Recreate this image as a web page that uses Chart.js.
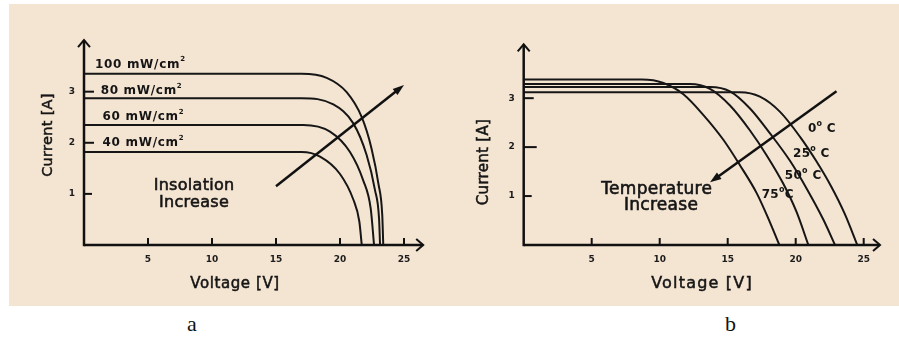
<!DOCTYPE html>
<html>
<head>
<meta charset="utf-8">
<script src="https://cdn.jsdelivr.net/npm/chart.js@4.4.1/dist/chart.umd.min.js"></script>
<style>
  body { margin: 0; background: #fff; width: 899px; height: 342px; position: relative; overflow: hidden; }
  #bg { position: absolute; left: 9px; top: 4px; width: 890px; height: 302px; background: #f4e4d2; }
  .wrap { position: absolute; top: 0; height: 310px; }
  #wrapA { left: 0; width: 450px; }
  #wrapB { left: 450px; width: 449px; }
  .cap { position: absolute; top: 313px; font: 22px "Liberation Serif", serif; color: #111; line-height: 22px; }
</style>
</head>
<body>
<div id="bg"></div>
<div class="wrap" id="wrapA"><canvas id="chartA"></canvas></div>
<div class="wrap" id="wrapB"><canvas id="chartB"></canvas></div>
<div class="cap" style="left:187px">a</div>
<div class="cap" style="left:725px">b</div>
<script>
// tick labels
const voltTicks = [5, 10, 15, 20, 25];
const ampTicks = [1, 2, 3];

// (a) I-V curves at different insolation
const insolLabels = ['100 mW/cm', '80 mW/cm', '60 mW/cm', '40 mW/cm'];
const v100 = [0, 17.0, 18.96, 20.52, 21.7, 22.47, 23.0, 23.3, 23.38];
const i100 = [3.35, 3.35, 3.27, 2.99, 2.5, 1.88, 1.2, 0.59, 0];
const v80 = [0, 17.0, 19.48, 21.04, 22.08, 22.73, 23.05, 23.13];
const i80 = [2.87, 2.87, 2.75, 2.38, 1.76, 1.08, 0.52, 0];
const v60 = [0, 17.13, 19.22, 20.78, 21.82, 22.4, 22.66];
const i60 = [2.35, 2.35, 2.22, 1.82, 1.26, 0.71, 0];
const v40 = [0, 17.0, 18.44, 20.0, 21.04, 21.51, 21.7];
const i40 = [1.82, 1.82, 1.73, 1.39, 0.89, 0.46, 0];

// (b) I-V curves at different temperature
const tempLabels = ['0', '25', '50', '75'];
const v0 = [0, 15.9, 17.37, 18.85, 20.32, 21.5, 22.6, 23.6, 24.53];
const i0 = [3.12, 3.12, 3.03, 2.72, 2.21, 1.72, 1.2, 0.64, 0];
const v25 = [0, 13.7, 15.17, 16.64, 18.11, 19.58, 20.81, 22.03, 22.89];
const i25 = [3.23, 3.23, 3.14, 2.79, 2.28, 1.72, 1.15, 0.52, 0];
const v50 = [0, 12.23, 13.7, 15.17, 16.64, 17.87, 19.09, 20.07, 20.93];
const i50 = [3.29, 3.29, 3.19, 2.85, 2.34, 1.83, 1.25, 0.67, 0];
const v75 = [0, 8.68, 10.27, 11.74, 13.2, 14.68, 15.9, 17.13, 17.99, 18.8];
const i75 = [3.38, 3.38, 3.31, 3.08, 2.66, 2.15, 1.63, 1.06, 0.54, 0];

const toPts = (vs, is) => vs.map((v, k) => ({ x: v, y: is[k] }));
const curve = (vs, is) => ({
  data: toPts(vs, is),
  borderColor: '#161616',
  borderWidth: 2,
  pointRadius: 0,
  cubicInterpolationMode: 'monotone',
  fill: false
});

function line(ctx, x1, y1, x2, y2) {
  ctx.beginPath(); ctx.moveTo(x1, y1); ctx.lineTo(x2, y2); ctx.stroke();
}

// fill + thin stroke, the scanned figure has heavy text
function heavyText(ctx, txt, x, y, w) {
  ctx.fillText(txt, x, y);
  if (w) { ctx.lineWidth = w; ctx.strokeText(txt, x, y); }
}

// draws axes with arrows, tick marks, the trend arrow and all annotation text
const extras = {
  id: 'extras',
  afterDatasetsDraw(chart, args, o) {
    const { ctx, scales: { x, y } } = chart;
    const px = v => x.getPixelForValue(v);
    const py = a => y.getPixelForValue(a);
    const x0 = px(0), y0 = py(0);
    ctx.save();
    ctx.strokeStyle = '#111';
    ctx.fillStyle = '#111';

    // axes
    ctx.lineWidth = 2.5;
    const xt = px(o.xTip), yt = py(o.yTip);
    line(ctx, x0, y0, xt, y0);
    line(ctx, x0, y0 + 1.2, x0, yt);
    ctx.lineWidth = 2;
    ctx.beginPath();
    ctx.moveTo(xt - 7, y0 - 6); ctx.lineTo(xt, y0); ctx.lineTo(xt - 7, y0 + 6);
    ctx.moveTo(x0 - 6, yt + 7); ctx.lineTo(x0, yt); ctx.lineTo(x0 + 6, yt + 7);
    ctx.stroke();

    // tick marks
    ctx.lineWidth = 2;
    x.ticks.forEach(t => line(ctx, px(t.value), y0, px(t.value), y0 - 7));
    y.ticks.forEach((t, k) => line(ctx, x0, py(t.value), x0 + o.yTickLen[k], py(t.value)));

    // trend arrow
    const [ax1, ay1, ax2, ay2] = o.arrow;
    const sx = px(ax1), sy = py(ay1), ex = px(ax2), ey = py(ay2);
    const ang = Math.atan2(ey - sy, ex - sx);
    ctx.lineWidth = 2.5;
    line(ctx, sx, sy, ex - 8 * Math.cos(ang), ey - 8 * Math.sin(ang));
    ctx.beginPath();
    ctx.moveTo(ex, ey);
    ctx.lineTo(ex - 12 * Math.cos(ang - 0.33), ey - 12 * Math.sin(ang - 0.33));
    ctx.lineTo(ex - 12 * Math.cos(ang + 0.33), ey - 12 * Math.sin(ang + 0.33));
    ctx.closePath();
    ctx.fill();

    // curve labels with superscripts
    ctx.fillStyle = '#151515';
    ctx.strokeStyle = '#151515';
    ctx.textBaseline = 'middle';
    o.labels.forEach(lb => {
      let cx = px(lb.v);
      const cy = py(lb.a);
      lb.parts.forEach(([txt, sup]) => {
        ctx.font = sup ? o.supFont : o.labelFont;
        ctx.letterSpacing = o.labelSpacing;
        ctx.textAlign = 'left';
        heavyText(ctx, txt, cx, sup ? cy - 5 : cy, 0);
        cx += ctx.measureText(txt).width;
      });
    });
    ctx.letterSpacing = '0px';

    // note text
    ctx.textAlign = 'center';
    ctx.font = o.noteFont;
    ctx.letterSpacing = o.noteSpacing;
    o.note.forEach(([txt, v, a]) => heavyText(ctx, txt, px(v), py(a), 0.6));

    // axis titles
    ctx.font = o.xTitleFont;
    ctx.letterSpacing = o.xTitleSpacing;
    heavyText(ctx, 'Voltage [V]', o.xTitle[0], o.xTitle[1], 0.5);
    ctx.font = o.yTitleFont;
    ctx.letterSpacing = '0.3px';
    ctx.translate(o.yTitle[0], o.yTitle[1]);
    ctx.rotate(-Math.PI / 2);
    heavyText(ctx, 'Current [A]', 0, 0, 0.5);
    ctx.restore();
  }
};

function makeOptions(axisLeft, xMax, yMax, extra) {
  const tickFont = { family: '"DejaVu Sans"', size: 9, weight: 'bold' };
  return {
    responsive: true,
    maintainAspectRatio: false,
    animation: false,
    layout: { padding: 0 },
    plugins: { legend: { display: false }, tooltip: { enabled: false }, extras: extra },
    scales: {
      x: {
        type: 'linear', min: 0, max: xMax,
        grid: { display: false, drawTicks: false },
        border: { display: false },
        afterBuildTicks: s => { s.ticks = voltTicks.map(v => ({ value: v })); },
        afterFit: s => { s.height = 65; },
        ticks: { font: tickFont, color: '#1c1c1c', padding: 9 }
      },
      y: {
        type: 'linear', min: 0, max: yMax,
        grid: { display: false, drawTicks: false },
        border: { display: false },
        afterBuildTicks: s => { s.ticks = ampTicks.map(v => ({ value: v })); },
        afterFit: s => { s.width = axisLeft; },
        ticks: { font: tickFont, color: '#1c1c1c', padding: 9 }
      }
    }
  };
}

new Chart(document.getElementById('chartA'), {
  type: 'line',
  data: {
    datasets: [curve(v100, i100), curve(v80, i80), curve(v60, i60), curve(v40, i40)]
  },
  plugins: [extras],
  options: makeOptions(84, 366 / 12.8, 245 / 54.3, {
    xTip: 26.5, yTip: 4.01,
    yTickLen: [8, 10, 10],
    arrow: [15.0, 1.15, 25.0, 3.13],
    labelFont: 'bold 12px "DejaVu Sans"', supFont: 'bold 7px "DejaVu Sans"', labelSpacing: '0.7px',
    labels: [
      { v: 0.85, a: 3.53, parts: [[insolLabels[0], false], ['2', true]] },
      { v: 1.3, a: 3.01, parts: [[insolLabels[1], false], ['2', true]] },
      { v: 1.45, a: 2.50, parts: [[insolLabels[2], false], ['2', true]] },
      { v: 1.45, a: 1.99, parts: [[insolLabels[3], false], ['2', true]] }
    ],
    noteFont: '16px "DejaVu Sans"', noteSpacing: '0.3px',
    note: [['Insolation', 8.6, 1.15], ['Increase', 8.6, 0.83]],
    xTitleFont: '15px "DejaVu Sans"', xTitleSpacing: '0.6px', xTitle: [235, 284],
    yTitleFont: '14.5px "DejaVu Sans"', yTitle: [48, 135]
  })
});

new Chart(document.getElementById('chartB'), {
  type: 'line',
  data: {
    datasets: [curve(v0, i0), curve(v25, i25), curve(v50, i50), curve(v75, i75)]
  },
  plugins: [extras],
  options: makeOptions(73.7, 375.3 / 13.6, 245 / 52, {
    xTip: 26.2, yTip: 4.1,
    yTickLen: [8, 13, 10],
    arrow: [23.0, 3.14, 13.7, 1.28],
    labelFont: 'bold 12px "DejaVu Sans"', supFont: 'bold 8px "DejaVu Sans"', labelSpacing: '0.3px',
    labels: [
      { v: 20.9, a: 2.37, parts: [[tempLabels[0], false], ['o', true], [' C', false]] },
      { v: 19.8, a: 1.87, parts: [[tempLabels[1], false], ['o', true], [' C', false]] },
      { v: 19.2, a: 1.41, parts: [[tempLabels[2], false], ['o', true], [' C', false]] },
      { v: 17.5, a: 1.03, parts: [[tempLabels[3], false], ['o', true], ['C', false]] }
    ],
    noteFont: '17px "DejaVu Sans"', noteSpacing: '0.3px',
    note: [['Temperature', 9.78, 1.14], ['Increase', 10.1, 0.81]],
    xTitleFont: '16px "DejaVu Sans"', xTitleSpacing: '1.2px', xTitle: [252, 284],
    yTitleFont: '15px "DejaVu Sans"', yTitle: [34, 162]
  })
});
</script>
</body>
</html>
